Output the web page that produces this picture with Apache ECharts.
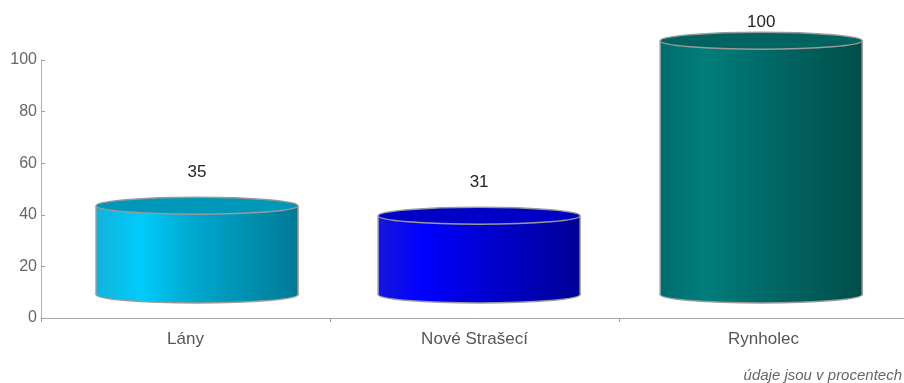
<!DOCTYPE html>
<html>
<head>
<meta charset="utf-8">
<script src="https://cdn.jsdelivr.net/npm/echarts@6/dist/echarts.min.js"></script>
<style>
html,body{margin:0;padding:0;background:#fff;overflow:hidden;}
#c{width:908px;height:383px;}
</style>
</head>
<body>
<div id="c"></div>
<script>
const categories = ['Lány', 'Nové Strašecí', 'Rynholec'];
const values = [35, 31, 100];
const yMin = 0, yMax = 100, yInterval = 20;
const footnote = 'údaje jsou v procentech';

// styles (kept separate from data)
const bodyStops = [
  ['#14b2da', '#00cbfb', '#00a6cc', '#007a96'],
  ['#1616d8', '#0000ff', '#0000d6', '#000096'],
  ['#006c6c', '#007e7b', '#006b68', '#004d4a']
];
const topColors = ['#0098b8', '#0000c6', '#00635f'];
const FONT = '"Liberation Sans", Arial, sans-serif';

// simple oblique projection of the 3D front plane
const SX = 0.976, OX = 16, SY = 0.984, OY = -18.4;
const proj = (p) => [p[0] * SX + OX, p[1] * SY + OY];

const chart = echarts.init(document.getElementById('c'), null, {renderer: 'canvas'});

function renderItem(params, api) {
  const i = api.value(0);
  const v = api.value(1);
  const b = proj(api.coord([i, 0]));
  const t = proj(api.coord([i, v]));
  const band = api.size([1, 0])[0];
  const hw = band * 0.716 / 2 * SX;
  const ry = 8.5;
  const cx = b[0];
  const s = bodyStops[i];
  const grad = () => new echarts.graphic.LinearGradient(0, 0, 1, 0, [
    {offset: 0, color: s[0]},
    {offset: 0.22, color: s[1]},
    {offset: 0.5, color: s[2]},
    {offset: 1, color: s[3]}
  ]);
  const stroke = '#9a9a9a';
  const labelY = Math.max(t[1] - ry - 25, 22);
  return {
    type: 'group',
    children: [
      {type: 'ellipse', shape: {cx: cx, cy: b[1], rx: hw, ry: ry},
       style: {fill: grad(), stroke: stroke, lineWidth: 1.5}},
      {type: 'rect', shape: {x: cx - hw, y: t[1], width: 2 * hw, height: b[1] - t[1]},
       style: {fill: grad()}},
      {type: 'line', shape: {x1: cx - hw, y1: t[1], x2: cx - hw, y2: b[1]},
       style: {stroke: stroke, lineWidth: 1.5}},
      {type: 'line', shape: {x1: cx + hw, y1: t[1], x2: cx + hw, y2: b[1]},
       style: {stroke: stroke, lineWidth: 1.5}},
      {type: 'ellipse', shape: {cx: cx, cy: t[1], rx: hw, ry: ry},
       style: {fill: topColors[i], stroke: stroke, lineWidth: 1.5}},
      {type: 'text', x: cx, y: labelY,
       style: {text: String(v), fill: '#222', font: '17px ' + FONT,
               align: 'center', verticalAlign: 'middle'}}
    ]
  };
}

chart.setOption({
  animation: false,
  backgroundColor: '#fff',
  grid: {left: 41, top: 60, right: 0, bottom: 65, containLabel: false},
  xAxis: {
    type: 'category',
    data: categories,
    boundaryGap: true,
    axisLine: {show: true, lineStyle: {color: '#a8a8a8', width: 1}},
    axisTick: {show: true, length: 4, lineStyle: {color: '#a0a0a0'}},
    axisLabel: {color: '#555', fontSize: 17, fontFamily: FONT, margin: 13}
  },
  yAxis: {
    type: 'value',
    min: yMin, max: yMax, interval: yInterval,
    axisLine: {show: true, lineStyle: {color: '#b0b0b0', width: 1}},
    axisTick: {show: true, inside: true, length: 4, lineStyle: {color: '#a0a0a0'}},
    axisLabel: {color: '#666', fontSize: 16, fontFamily: FONT, margin: 4},
    splitLine: {show: false}
  },
  series: [{
    type: 'custom',
    renderItem: renderItem,
    data: values.map((v, i) => [i, v]),
    clip: false
  }],
  graphic: [{
    type: 'text', right: 6, bottom: 0,
    style: {text: footnote, fill: '#666', font: 'italic 15px ' + FONT}
  }]
});
</script>
</body>
</html>
